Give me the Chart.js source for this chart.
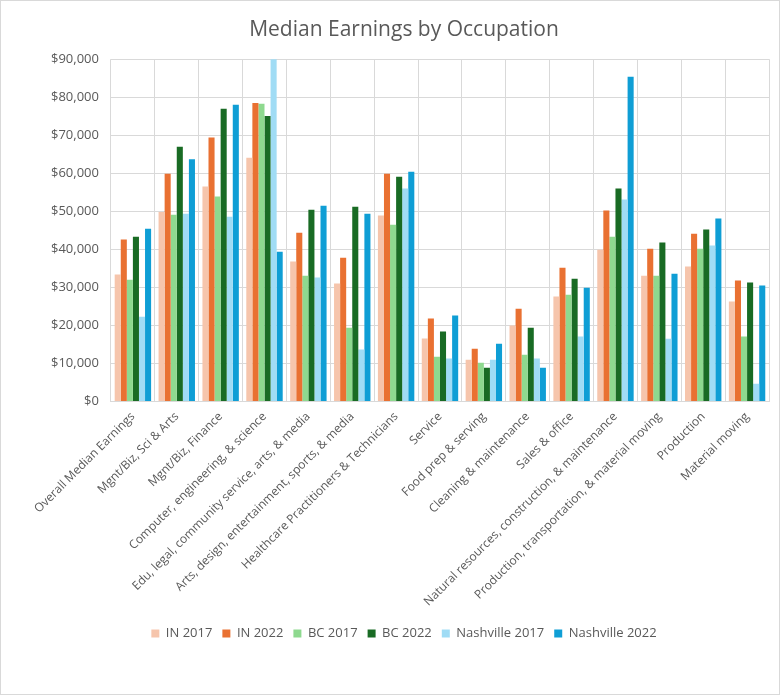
<!DOCTYPE html>
<html>
<head>
<meta charset="utf-8">
<script src="https://cdn.jsdelivr.net/npm/chart.js@4"></script>
<style>
  html, body { margin: 0; padding: 0; background: #fff; }
  #wrap { width: 778px; height: 693px; border: 1px solid #d9d9d9; }
</style>
</head>
<body>
<div id="wrap"><canvas id="earningsChart" width="778" height="693"></canvas></div>
<script>
// categories along the x axis
const occupations = [
    "Overall Median Earnings",
    "Mgnt/Biz, Sci & Arts",
    "Mgnt/Biz, Finance",
    "Computer, engineering, & science",
    "Edu, legal, community service, arts, & media",
    "Arts, design, entertainment, sports, & media",
    "Healthcare Practitioners & Technicians",
    "Service",
    "Food prep & serving",
    "Cleaning & maintenance",
    "Sales & office",
    "Natural resources, construction, & maintenance",
    "Production, transportation, & material moving",
    "Production",
    "Material moving"
];

// series values
const in2017 = [33400, 49800, 56500, 64100, 36800, 31000, 48900, 16600, 11000, 20000, 27600, 39900, 33100, 35500, 26300];
const in2022 = [42600, 59900, 69400, 78500, 44400, 37800, 59900, 21800, 13900, 24400, 35200, 50200, 40200, 44100, 31800];
const bc2017 = [32000, 49100, 53900, 78300, 33100, 19400, 46500, 11800, 10200, 12300, 28100, 43300, 33100, 40200, 17100];
const bc2022 = [43300, 67000, 77000, 75100, 50400, 51200, 59100, 18400, 8900, 19400, 32300, 56000, 41800, 45200, 31300];
const nash2017 = [22300, 49400, 48600, 96000, 32600, 13700, 56000, 11300, 11000, 11300, 17100, 53100, 16500, 41000, 4700];
const nash2022 = [45400, 63700, 78000, 39400, 51500, 49400, 60400, 22600, 15200, 8900, 29900, 85400, 33600, 48100, 30500];

const seriesLabels = ["IN 2017", "IN 2022", "BC 2017", "BC 2022", "Nashville 2017", "Nashville 2022"];
const seriesColors = ["#F6C5AC", "#E97132", "#8ED98F", "#196B24", "#A0DCF5", "#0F9ED5"];
const seriesValues = [in2017, in2022, bc2017, bc2022, nash2017, nash2022];

const textColor = "#595959";
const gridColor = "#d9d9d9";
const fontFamily = "'Open Sans', 'Liberation Sans', sans-serif";

const ctx = document.getElementById('earningsChart').getContext('2d');

new Chart(ctx, {
    type: 'bar',
    data: {
        labels: occupations,
        datasets: seriesValues.map((vals, i) => ({
            label: seriesLabels[i],
            data: vals,
            backgroundColor: seriesColors[i],
            borderWidth: 0,
            barPercentage: 1.0,
            categoryPercentage: 0.83
        }))
    },
    options: {
        responsive: false,
        animation: false,
        layout: { padding: { top: 4, left: 38, right: 10, bottom: 44 } },
        plugins: {
            title: {
                display: true,
                text: 'Median Earnings by Occupation',
                color: textColor,
                font: { family: fontFamily, size: 21, weight: 'normal' },
                padding: { top: 12, bottom: 17 }
            },
            legend: {
                position: 'bottom',
                labels: {
                    color: textColor,
                    font: { family: fontFamily, size: 13 },
                    boxWidth: 8,
                    boxHeight: 8,
                    padding: 10
                }
            },
            tooltip: { enabled: false }
        },
        scales: {
            x: {
                grid: { color: gridColor, drawTicks: false, offset: true },
                border: { color: gridColor },
                ticks: {
                    color: textColor,
                    font: { family: fontFamily, size: 12 },
                    minRotation: 45,
                    maxRotation: 45,
                    autoSkip: false,
                    padding: 8
                }
            },
            y: {
                min: 0,
                max: 90000,
                grid: { color: gridColor, drawTicks: false },
                border: { display: false },
                ticks: {
                    stepSize: 10000,
                    color: textColor,
                    font: { family: fontFamily, size: 13 },
                    padding: 12,
                    callback: v => '$' + v.toLocaleString('en-US')
                }
            }
        }
    }
});
</script>
</body>
</html>
